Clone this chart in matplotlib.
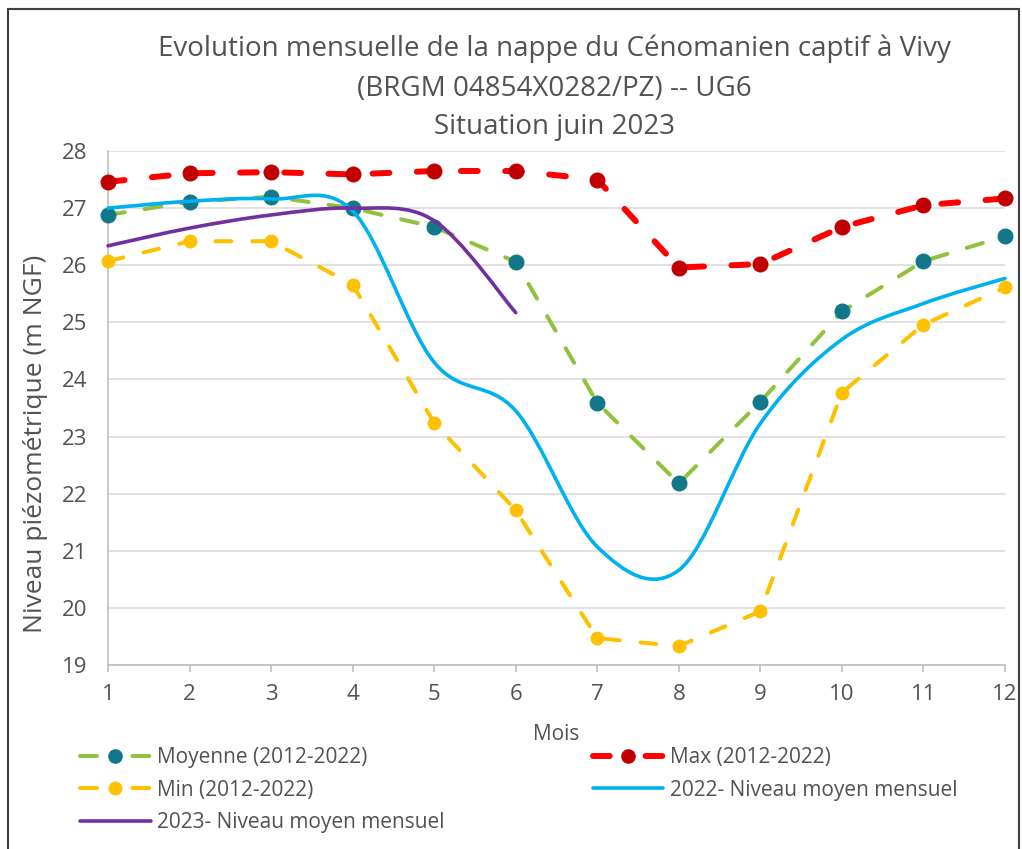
import matplotlib
matplotlib.use("Agg")
import matplotlib.pyplot as plt
from matplotlib.path import Path
from matplotlib.patches import PathPatch, Rectangle
from matplotlib.lines import Line2D

# ---------------- data ----------------
months = [1, 2, 3, 4, 5, 6, 7, 8, 9, 10, 11, 12]
moyenne = [26.88, 27.11, 27.20, 27.00, 26.67, 26.06, 23.59, 22.18, 23.61, 25.19, 26.07, 26.51]
maxi = [27.46, 27.61, 27.63, 27.59, 27.65, 27.65, 27.50, 25.96, 26.02, 26.67, 27.05, 27.17]
mini = [26.07, 26.42, 26.42, 25.66, 23.24, 21.71, 19.47, 19.33, 19.94, 23.77, 24.96, 25.61]
niv2022 = [27.00, 27.12, 27.16, 26.95, 24.30, 23.45, 21.07, 20.66, 23.23, 24.70, 25.33, 25.77]
months2023 = [1, 2, 3, 4, 5, 6]
niv2023 = [26.34, 26.65, 26.88, 27.00, 26.78, 25.17]

title_lines = ["Evolution mensuelle de la nappe du Cénomanien captif à Vivy",
               "(BRGM 04854X0282/PZ) -- UG6",
               "Situation juin 2023"]
labels = ["Moyenne (2012-2022)", "Max (2012-2022)", "Min (2012-2022)",
          "2022- Niveau moyen mensuel", "2023- Niveau moyen mensuel"]
yticks = [19, 20, 21, 22, 23, 24, 25, 26, 27, 28]

# ---------------- style ----------------
plt.rcParams['font.family'] = ['Open Sans', 'DejaVu Sans']
TXT = '#525252'
C_GREEN = '#92C13E'
C_TEAL = '#127788'
C_RED = '#FF0000'
C_DRED = '#C00000'
C_YEL = '#FFC000'
C_BLUE = '#00B0F0'
C_PURP = '#7030A0'

W, H = 1022, 849
fig = plt.figure(figsize=(W / 100, H / 100), dpi=100)
px = lambda x, y: (x / W, 1 - y / H)

x0, y0 = px(108, 665)
x1, y1 = px(1005, 151)
ax = fig.add_axes([x0, y0, x1 - x0, y1 - y0])
ax.set_xlim(1, 12)
ax.set_ylim(19, 28)


def smooth_path(xs, ys):
    """Excel-like smoothed line as cubic Bezier segments (Catmull-Rom tangents)."""
    n = len(xs)
    verts = [(xs[0], ys[0])]
    codes = [Path.MOVETO]
    for i in range(n - 1):
        im1 = max(i - 1, 0)
        ip2 = min(i + 2, n - 1)
        c1 = (xs[i] + (xs[i + 1] - xs[im1]) / 6, ys[i] + (ys[i + 1] - ys[im1]) / 6)
        c2 = (xs[i + 1] - (xs[ip2] - xs[i]) / 6, ys[i + 1] - (ys[ip2] - ys[i]) / 6)
        verts += [c1, c2, (xs[i + 1], ys[i + 1])]
        codes += [Path.CURVE4] * 3
    return Path(verts, codes)


# grid
ax.set_yticks(yticks)
ax.set_xticks(months)
ax.yaxis.grid(True, color='#D9D9D9', lw=1.1)
ax.set_axisbelow(True)
for s in ['top', 'right']:
    ax.spines[s].set_visible(False)
for s in ['left', 'bottom']:
    ax.spines[s].set_color('#BFBFBF')
    ax.spines[s].set_linewidth(1.2)
ax.tick_params(axis='y', length=0, pad=15, labelsize=16, labelcolor=TXT)
ax.tick_params(axis='x', length=5, width=1.2, color='#BFBFBF', pad=9,
               labelsize=16, labelcolor=TXT)

# lines
ax.plot(months, maxi, color=C_RED, lw=4.3, dashes=(2.8, 4.6),
        dash_capstyle='round', marker='o', ms=10.5, mfc=C_DRED, mec=C_DRED,
        clip_on=False, zorder=4)
ax.plot(months, moyenne, color=C_GREEN, lw=2.9, dashes=(4.2, 5.0),
        dash_capstyle='round', marker='o', ms=10.5, mfc=C_TEAL, mec=C_TEAL,
        clip_on=False, zorder=4)
ax.plot(months, mini, color=C_YEL, lw=2.9, dashes=(3.9, 5.2),
        dash_capstyle='round', marker='o', ms=9, mfc=C_YEL, mec=C_YEL,
        clip_on=False, zorder=4)

ax.add_patch(PathPatch(smooth_path(months, niv2022), fill=False, ec=C_BLUE, lw=2.6,
                       capstyle='round', zorder=5, clip_on=False))
ax.add_patch(PathPatch(smooth_path(months2023, niv2023), fill=False, ec=C_PURP, lw=2.6,
                       capstyle='round', zorder=6, clip_on=False))

# legend proxies (dash - marker - dash, like the reference handles)
h_moy = Line2D([], [], color=C_GREEN, lw=2.9, dashes=(4.2, 8.8), dash_capstyle='round',
               marker='o', ms=9.5, mfc=C_TEAL, mec=C_TEAL)
h_max = Line2D([], [], color=C_RED, lw=4.3, dashes=(2.8, 6.0), dash_capstyle='round',
               marker='o', ms=9.5, mfc=C_DRED, mec=C_DRED)
h_min = Line2D([], [], color=C_YEL, lw=2.9, dashes=(4.2, 8.8), dash_capstyle='round',
               marker='o', ms=9, mfc=C_YEL, mec=C_YEL)
h_22 = Line2D([], [], color=C_BLUE, lw=2.6, solid_capstyle='round')
h_23 = Line2D([], [], color=C_PURP, lw=2.6, solid_capstyle='round')

leg = fig.legend([h_moy, h_min, h_23, h_max, h_22],
                 [labels[0], labels[2], labels[4], labels[1], labels[3]],
                 ncol=2, loc='upper left', bbox_to_anchor=px(80, 747),
                 frameon=False, fontsize=15, handlelength=3.4, handletextpad=0.3,
                 labelspacing=0.56, columnspacing=7.1, borderpad=0, borderaxespad=0)
for t in leg.get_texts():
    t.set_color(TXT)

# titles & axis labels
for txt, yy in zip(title_lines, [49, 89, 127]):
    fig.text(*px(554, yy), txt, ha='center', va='center', fontsize=20, color=TXT,
             fontweight='medium')
fig.text(*px(36, 444), "Niveau piézométrique (m NGF)", rotation=90, ha='center',
         va='center', fontsize=19, color=TXT, fontweight='medium')
fig.text(*px(556, 735), "Mois", ha='center', va='center', fontsize=15, color=TXT)

# outer frame
fx0, fy0 = px(8, 860)
fx1, fy1 = px(1019, 9)
fig.patches.append(Rectangle((fx0, fy0), fx1 - fx0, fy1 - fy0, transform=fig.transFigure,
                             fill=False, ec='#404040', lw=1.5))

fig.savefig("out.png", dpi=100)
